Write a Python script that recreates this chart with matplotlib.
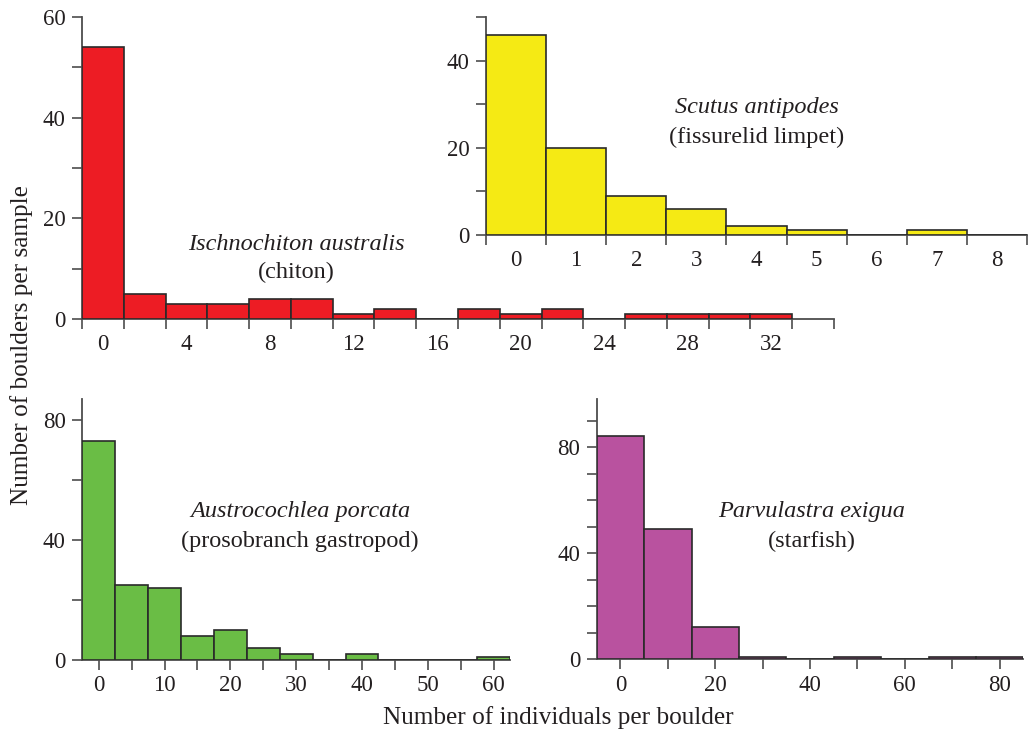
import matplotlib
matplotlib.use("Agg")
import matplotlib.pyplot as plt
from matplotlib.ticker import NullFormatter

plt.rcParams['font.family'] = ['Liberation Serif', 'DejaVu Serif']

# ---- data ----
chiton_bins = [0, 2, 4, 6, 8, 10, 12, 14, 16, 18, 20, 22, 24, 26, 28, 30, 32]
chiton_counts = [54, 5, 3, 3, 4, 4, 1, 2, 0, 2, 1, 2, 0, 1, 1, 1, 1]
chiton_labels = [0, 4, 8, 12, 16, 20, 24, 28, 32]

scutus_bins = [0, 1, 2, 3, 4, 5, 6, 7, 8]
scutus_counts = [46, 20, 9, 6, 2, 1, 0, 1, 0]
scutus_labels = [0, 1, 2, 3, 4, 5, 6, 7, 8]

austro_bins = [0, 5, 10, 15, 20, 25, 30, 35, 40, 45, 50, 55, 60]
austro_counts = [73, 25, 24, 8, 10, 4, 2, 0, 2, 0, 0, 0, 1]
austro_labels = [0, 10, 20, 30, 40, 50, 60]

parvu_bins = [0, 10, 20, 30, 40, 50, 60, 70, 80]
parvu_counts = [84, 49, 12, 1, 0, 1, 0, 1, 1]
parvu_labels = [0, 20, 40, 60, 80]

W, H = 1030, 731
fig = plt.figure(figsize=(W / 100, H / 100), dpi=100)

ink = '#231F20'
axcol = '#4d4d4d'
TFS = 16.5   # tick labels
SFS = 17.5   # species labels
LFS = 18.2   # axis labels


def make_ax(l, r, t, b):
    return fig.add_axes([l / W, 1 - b / H, (r - l) / W, (b - t) / H])


def style(ax, xlim, ylim, ymajor, yminor, xtick_marks, xlabels):
    ax.set_xlim(*xlim)
    ax.set_ylim(*ylim)
    for s in ['top', 'right']:
        ax.spines[s].set_visible(False)
    for s in ['left', 'bottom']:
        ax.spines[s].set_color(axcol)
        ax.spines[s].set_linewidth(1.3)
    ax.set_yticks(ymajor)
    ax.set_yticks(yminor, minor=True)
    ax.tick_params(axis='y', which='both', direction='out', length=7,
                   width=1.2, color=axcol, labelsize=TFS, labelcolor=ink, pad=5)
    if all(v in xtick_marks for v in xlabels):
        ax.set_xticks(xtick_marks)
        ax.set_xticklabels([str(v) if v in xlabels else '' for v in xtick_marks])
        ax.tick_params(axis='x', which='major', direction='out', length=7,
                       width=1.2, color=axcol, labelsize=TFS, labelcolor=ink,
                       pad=4)
    else:
        ax.set_xticks(xtick_marks)
        ax.xaxis.set_major_formatter(NullFormatter())
        ax.tick_params(axis='x', which='major', direction='out', length=7,
                       width=1.2, color=axcol)
        ax.set_xticks(xlabels, minor=True)
        ax.set_xticklabels([str(v) for v in xlabels], minor=True)
        ax.tick_params(axis='x', which='minor', length=0, labelsize=TFS,
                       labelcolor=ink, pad=11)
    ax.patch.set_alpha(0)


edge = dict(edgecolor='#2a2a2a', linewidth=1.2)

# Panel 1: chiton
ax1 = make_ax(82, 834, 17, 319)
ax1.bar(chiton_bins, chiton_counts, width=2, color='#ED1C24', **edge, zorder=3)
style(ax1, (-1, 35), (0, 60), [0, 20, 40, 60], [10, 30, 50],
      list(range(-1, 36, 2)), chiton_labels)

# Panel 2: scutus
ax2 = make_ax(486, 1027, 17.3, 234.7)
ax2.bar(scutus_bins, scutus_counts, width=1, color='#F5EA14', **edge, zorder=3)
style(ax2, (-0.5, 8.5), (0, 50), [0, 20, 40], [10, 30, 50],
      [v + 0.5 for v in range(-1, 9)], scutus_labels)

# Panel 3: austrocochlea
ax3 = make_ax(82.3, 510, 399.3, 660)
ax3.bar(austro_bins, austro_counts, width=5, color='#6ABD45', **edge, zorder=3)
style(ax3, (-2.5, 62.5), (0, 87), [0, 40, 80], [20, 60],
      list(range(0, 61, 5)), austro_labels)

# Panel 4: parvulastra
ax4 = make_ax(596.7, 1023.3, 399.3, 659.3)
ax4.bar(parvu_bins, parvu_counts, width=10, color='#B9529F', **edge, zorder=3)
style(ax4, (-5, 85), (0, 98), [0, 40, 80], [10, 20, 30, 50, 60, 70, 90],
      list(range(0, 81, 10)), parvu_labels)


def ftext(x, y, s, italic=False, size=SFS, rot=0):
    fig.text(x / W, 1 - y / H, s, ha='center', va='center', color=ink,
             fontsize=size, style='italic' if italic else 'normal',
             rotation=rot)


ftext(296, 245, 'Ischnochiton australis', True)
ftext(296, 272, '(chiton)')
ftext(757, 107, 'Scutus antipodes', True)
ftext(757, 137, '(fissurelid limpet)')
ftext(300, 512, 'Austrocochlea porcata', True)
ftext(300, 541, '(prosobranch gastropod)')
ftext(812, 512, 'Parvulastra exigua', True)
ftext(812, 541, '(starfish)')

ftext(22, 345, 'Number of boulders per sample', size=LFS, rot=90)
ftext(558, 718, 'Number of individuals per boulder', size=LFS)

fig.savefig('out.png', dpi=100, facecolor='white')
